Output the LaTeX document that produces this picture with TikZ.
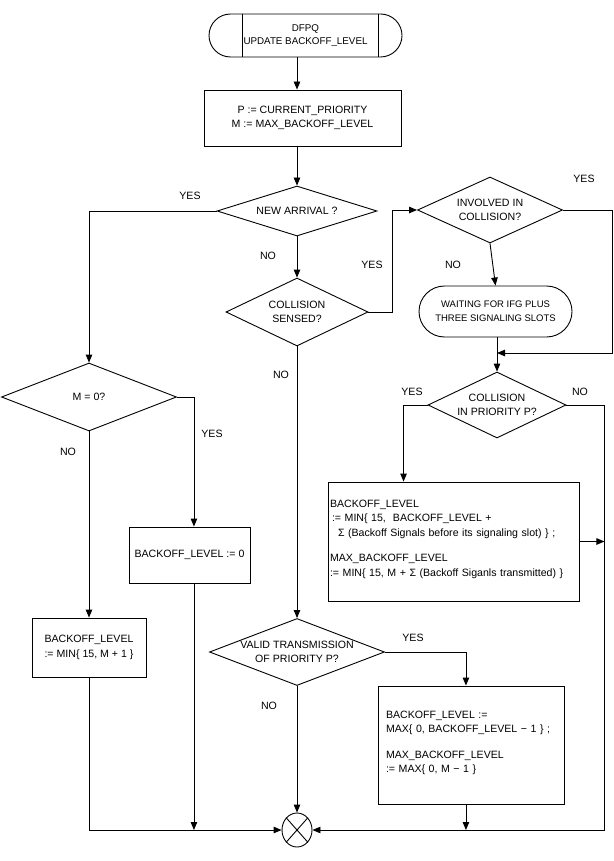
\documentclass[tikz,border=0pt]{standalone}
\usepackage{fontspec}
\setmainfont{Liberation Sans}
\usetikzlibrary{shapes.geometric,shapes.misc,arrows.meta}
\begin{document}
\begin{tikzpicture}[x=1pt,y=-1pt,
  font=\fontsize{10.6}{14.5}\selectfont,
  line width=0.9pt,
  arr/.style={-{Triangle[length=8pt,width=6.5pt]}},
  box/.style={draw,rectangle,inner sep=2pt},
  dia/.style={draw,diamond,inner sep=0pt},
  term/.style={draw,rounded rectangle,inner sep=0pt,align=center},
  lbl/.style={inner sep=0pt},
  dtxt/.style={inner sep=0pt,align=center}
]
\useasboundingbox (0,0) rectangle (613,861);

% nodes
\node[term,minimum width=193pt,minimum height=43pt,font=\fontsize{9.8}{13}\selectfont] (start) at (305.5,35.5) {DFPQ\\UPDATE BACKOFF\_LEVEL};
\draw ([xshift=-63.5pt]start.north) -- ([xshift=-63.5pt]start.south);
\draw ([xshift=72.5pt]start.north) -- ([xshift=72.5pt]start.south);

\node[box,minimum width=197pt,minimum height=56pt,align=center] (PM) at (302.5,118) {P := CURRENT\_PRIORITY\\M := MAX\_BACKOFF\_LEVEL};

\node[dia,minimum width=160pt,minimum height=50pt,label={[dtxt]center:NEW ARRIVAL ?}] (NA) at (297,211) {};
\node[dia,minimum width=142pt,minimum height=68pt,label={[dtxt]center:COLLISION\\SENSED?}] (CS) at (297,312) {};
\node[dia,minimum width=145pt,minimum height=66pt,label={[dtxt]center:INVOLVED IN\\COLLISION?}] (IC) at (490,210) {};
\node[term,minimum width=153pt,minimum height=51pt,font=\fontsize{9.5}{14}\selectfont] (wait) at (495.5,311.5) {WAITING FOR IFG PLUS\\THREE SIGNALING SLOTS};
\coordinate (jn) at (497,353);
\node[dia,minimum width=138pt,minimum height=66pt,label={[dtxt]center:COLLISION\\IN PRIORITY P?}] (CP) at (497,405) {};

\node[box,minimum width=251pt,minimum height=119pt,text width=247pt,align=left] (BIG) at (453.5,541.5) {BACKOFF\_LEVEL\\
\hspace*{2pt}:= MIN\{ 15,\ \ BACKOFF\_LEVEL +\\
\hspace*{8pt}Σ (Backoff Signals before its signaling slot) \} ;\\[11pt]
MAX\_BACKOFF\_LEVEL\\
:= MIN\{ 15, M + Σ (Backoff Siganls transmitted) \}\\[-8pt]\mbox{}};

\node[dia,minimum width=175pt,minimum height=68pt,label={[dtxt]center:M = 0?}] (M0) at (89,397) {};
\node[box,minimum width=121pt,minimum height=56pt] (B0) at (189.5,555) {BACKOFF\_LEVEL := 0};
\node[box,minimum width=114pt,minimum height=59pt,align=left] (BL) at (89,647.5) {BACKOFF\_LEVEL\\:= MIN\{ 15, M + 1 \}};

\node[dia,minimum width=175pt,minimum height=67pt,label={[dtxt]center:VALID TRANSMISSION\\OF PRIORITY P?}] (VT) at (297,652) {};
\node[box,minimum width=186pt,minimum height=118pt,text width=170pt,align=left] (BMAX) at (471,745) {BACKOFF\_LEVEL :=\\
MAX\{ 0, BACKOFF\_LEVEL − 1 \} ;\\[11pt]
MAX\_BACKOFF\_LEVEL\\
:= MAX\{ 0, M − 1 \}\\[-8pt]\mbox{}};

\node[draw,ellipse,minimum width=30pt,minimum height=34pt,inner sep=0pt] (X) at (297,830) {};
\draw (X.north west) -- (X.south east);
\draw (X.north east) -- (X.south west);

% connectors
\draw[arr] (start.south -| NA) -- (PM.north -| NA);
\draw[arr] (PM.south -| NA) -- (NA.north);
\draw[arr] (NA.west) -| (M0.north);
\draw[arr] (NA.south) -- (CS.north);
\draw[arr] (CS.east) -- ++(24,0) |- (IC.west);
\draw[arr] (IC.east) -- ++(49,0) |- (jn);
\draw[arr] (IC.south) -- (wait.north);
\draw[arr] (wait.south -| CP.north) -- (CP.north);
\draw[arr] (CP.west) -- ++(-24,0) coordinate (cpy) -- (cpy |- BIG.north);
\draw[arr] (CP.east) -- ++(38,0) coordinate (rr) |- (X.east);
\draw[arr] (BIG.east) -- (BIG.east -| rr);
\draw[arr] (M0.east) -- ++(17,0) coordinate (m0r) -- (m0r |- B0.north);
\draw[arr] (M0.south) -- (BL.north);
\draw[arr] (m0r |- B0.south) -- (m0r |- X);
\draw[arr] (BL.south) |- (X.west);
\draw[arr] (CS.south) -- (VT.north);
\draw[arr] (VT.south) -- (X.north);
\draw[arr] (VT.east) -- ++(81,0) coordinate (vty) -- (vty |- BMAX.north);
\draw[arr] (vty |- BMAX.south) -- (vty |- X);

% labels
\node[lbl] (l1) at (190,196) {YES};
\node[lbl] (l2) at (268,256) {NO};
\node[lbl] (l3) at (372,265) {YES};
\node[lbl] (l4) at (584,179) {YES};
\node[lbl] (l5) at (453,265) {NO};
\node[lbl] (l6) at (412,392) {YES};
\node[lbl] (l7) at (580,392) {NO};
\node[lbl] (l8) at (281,375) {NO};
\node[lbl] (l9) at (68,452) {NO};
\node[lbl] (l10) at (212,434) {YES};
\node[lbl] (l11) at (413,638) {YES};
\node[lbl] (l12) at (269,706) {NO};
\end{tikzpicture}
\end{document}
